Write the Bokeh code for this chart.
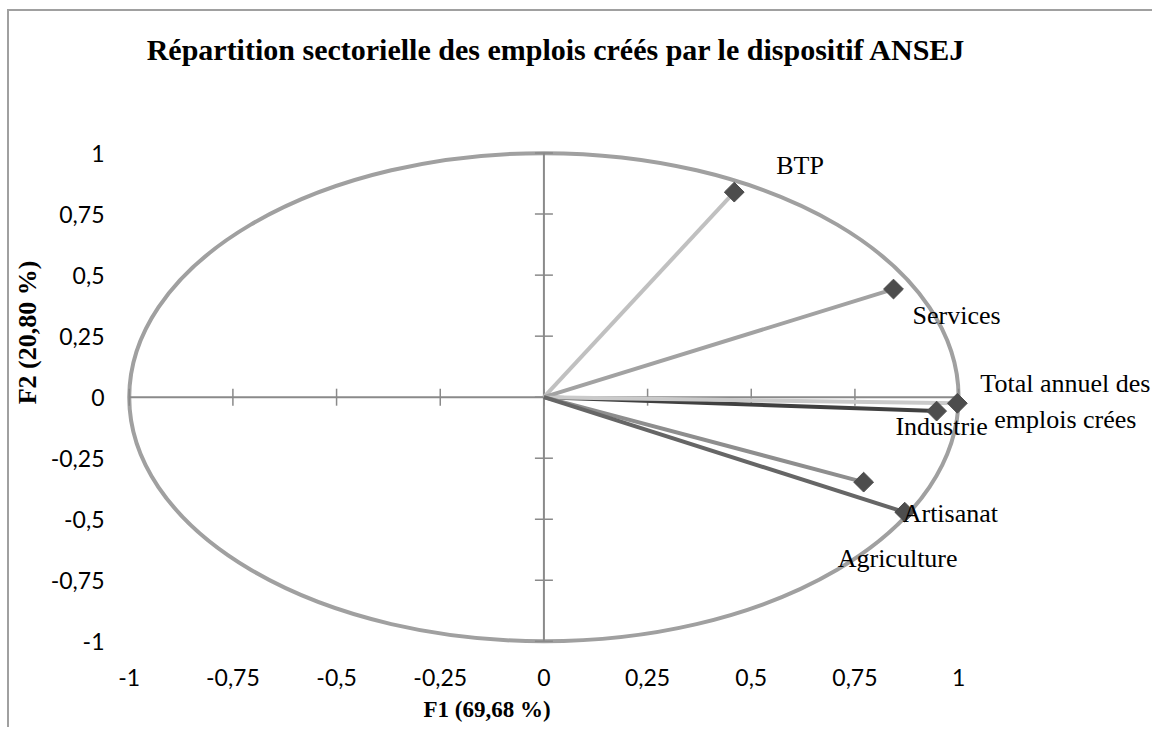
import math
from bokeh.plotting import figure
from bokeh.models import Range1d, FixedTicker, ColumnDataSource, Title, Label
from bokeh.embed import file_html
from bokeh.resources import INLINE
from bokeh.core.properties import value

# ---------------- data ----------------
title_text = "Répartition sectorielle des emplois créés par le dispositif ANSEJ"
x_axis_title = "F1 (69,68 %)"
y_axis_title = "F2 (20,80 %)"

variables = ["BTP", "Services", "Industrie", "Total annuel des\nemplois crées", "Agriculture", "Artisanat"]
f1 = [0.459, 0.843, 0.947, 0.997, 0.771, 0.870]
f2 = [0.840, 0.443, -0.057, -0.025, -0.348, -0.471]

tick_values = [-1, -0.75, -0.5, -0.25, 0, 0.25, 0.5, 0.75, 1]
tick_labels = ["-1", "-0,75", "-0,5", "-0,25", "0", "0,25", "0,5", "0,75", "1"]

circle_radius = 1

# ---------------- styles ----------------
line_colors = ["#c0c0c0", "#a2a2a2", "#404040", "#cacaca", "#8e8e8e", "#666666"]
label_dx = [42, 19, 5, 108, 34, -2]
label_dy = [-27, 26, 15, -2, 76, 1]
label_align = ["left", "left", "center", "center", "center", "left"]

axis_color = "#8a8a8a"
frame_color = "#a0a0a0"
serif = "Liberation Serif"

# placement of the chart title inside the (extended) plot area
title_x, title_y = -0.958, 1.425

source = ColumnDataSource(dict(
    name=variables, x=f1, y=f2, x0=[0] * len(f1), y0=[0] * len(f1),
    color=line_colors, dx=label_dx, dy=label_dy, align=label_align,
))

p = figure(
    width=1145, height=718, title=None,
    x_range=Range1d(-1.05, 1.47), y_range=Range1d(-1.05, 1.58),
    min_border_left=96, min_border_right=1, min_border_top=0, min_border_bottom=76,
    output_backend="svg", toolbar_location=None,
)
p.styles = {
    "margin-left": "7px", "margin-top": "9px",
    "border-top": f"2px solid {frame_color}", "border-left": f"2px solid {frame_color}",
}
p.outline_line_color = None
p.grid.visible = False
p.background_fill_color = "white"
p.border_fill_color = "white"

# chart title
p.add_layout(Label(x=title_x, y=title_y, text=title_text, text_font=serif,
                   text_font_style="bold", text_font_size="30px", text_color="black",
                   text_align="left", text_baseline="alphabetic"))

# axes (labels only)
for ax in (p.xaxis[0], p.yaxis[0]):
    ax.ticker = FixedTicker(ticks=tick_values)
    ax.major_label_overrides = dict(zip(tick_values, tick_labels))
    ax.axis_line_color = None
    ax.major_tick_line_color = None
    ax.minor_tick_line_color = None
    ax.major_tick_in = 0
    ax.major_tick_out = 0
    ax.major_label_text_font = "Lato"
    ax.major_label_text_font_size = "23px"
    ax.major_label_text_color = "black"
p.xaxis.major_label_standoff = 15
p.yaxis.major_label_standoff = 4
p.yaxis.axis_label = y_axis_title
p.yaxis.axis_label_text_font = serif
p.yaxis.axis_label_text_font_style = "bold"
p.yaxis.axis_label_text_font_size = "26px"
p.yaxis.axis_label_text_color = "black"
p.yaxis.axis_label_standoff = 6

p.add_layout(Title(text=x_axis_title, text_font=serif, text_font_style="bold",
                   text_font_size="23px", text_color="black", align="left",
                   offset=315, standoff=12), "below")

# correlation circle
p.ellipse(x=0, y=0, width=2 * circle_radius, height=2 * circle_radius,
          fill_color=None, line_color=frame_color, line_width=4)

# central axes with crossing ticks
lo, hi = min(tick_values), max(tick_values)
p.segment(x0=[lo, 0], y0=[0, lo], x1=[hi, 0], y1=[0, hi], line_color=axis_color, line_width=2)
p.scatter(x=tick_values, y=[0] * len(tick_values), marker="dash", size=17,
          angle=math.pi / 2, line_color=axis_color, line_width=1.5)
p.scatter(x=[0] * len(tick_values), y=tick_values, marker="dash", size=18,
          line_color=axis_color, line_width=1.5)

# vectors
p.segment(x0="x0", y0="y0", x1="x", y1="y", line_color="color", line_width=4, source=source)
p.scatter(x="x", y="y", marker="square", angle=math.pi / 4, size=14,
          fill_color="#4d4d4d", line_color="#4d4d4d", source=source)

p.text(x="x", y="y", text="name", x_offset="dx", y_offset="dy", text_align="align",
       text_baseline="middle", text_font=value(serif), text_font_size="26px",
       text_color="black", text_line_height=1.25, source=source)

open("out.html", "w").write(file_html(p, INLINE))
